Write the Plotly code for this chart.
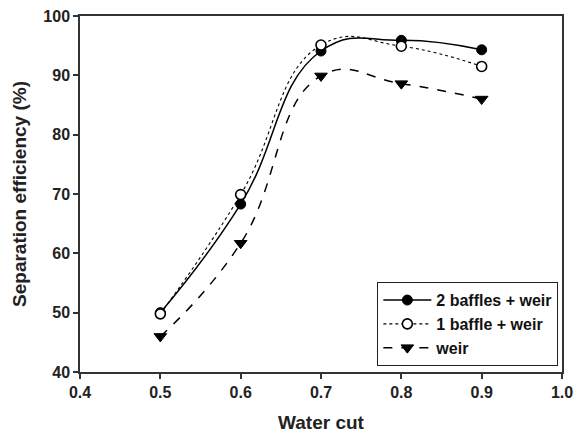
import plotly.graph_objects as go

water_cut = [0.5, 0.6, 0.7, 0.8, 0.9]
two_baffles_weir = [50.0, 68.3, 94.1, 95.9, 94.3]
one_baffle_weir = [49.8, 69.9, 95.1, 94.9, 91.5]
weir_only = [46.0, 61.7, 89.9, 88.6, 86.0]

x_ticks = [0.4, 0.5, 0.6, 0.7, 0.8, 0.9, 1.0]
y_ticks = [40, 50, 60, 70, 80, 90, 100]

FONT = "Liberation Sans, Arial, sans-serif"

fig = go.Figure()
fig.add_trace(go.Scatter(
    x=water_cut, y=two_baffles_weir, name="<b>2 baffles + weir</b>",
    mode="lines+markers",
    line=dict(color="black", width=1.5, shape="spline", smoothing=1.3, dash="solid"),
    marker=dict(symbol="circle", size=10, color="black", line=dict(color="black", width=1)),
))
fig.add_trace(go.Scatter(
    x=water_cut, y=one_baffle_weir, name="<b>1 baffle + weir</b>",
    mode="lines+markers",
    line=dict(color="black", width=1.1, shape="spline", smoothing=1.3, dash="dot"),
    marker=dict(symbol="circle", size=10, color="white", line=dict(color="black", width=1.6)),
))
fig.add_trace(go.Scatter(
    x=water_cut, y=weir_only, name="<b>weir</b>",
    mode="lines+markers",
    line=dict(color="black", width=1.5, shape="spline", smoothing=1.3, dash="dash"),
    marker=dict(symbol="triangle-down", size=11, color="black", line=dict(color="black", width=1)),
))

axis_common = dict(
    showline=True, linecolor="#333333", linewidth=1.5, mirror=True,
    ticks="outside", ticklen=5, tickwidth=1.5, tickcolor="#333333",
    showgrid=False, zeroline=False, automargin=False,
    ticklabeloverflow="allow",
    tickfont=dict(family=FONT, size=16, color="#222222"),
)

fig.update_xaxes(
    range=[0.4, 1.0], tickvals=x_ticks, ticktext=[f"<b>{v:.1f}</b>" for v in x_ticks],
    title=dict(text="<b>Water cut</b>", font=dict(family=FONT, size=19, color="#222222"), standoff=16),
    **axis_common,
)
fig.update_yaxes(
    range=[40, 100], tickvals=y_ticks, ticktext=[f"<b>{v}</b>" for v in y_ticks],
    title=dict(text="<b>Separation efficiency (%)</b>", font=dict(family=FONT, size=19, color="#222222"), standoff=12),
    **axis_common,
)

fig.update_layout(
    width=579, height=433,
    margin=dict(l=72, r=25, t=8, b=69),
    paper_bgcolor="white", plot_bgcolor="white",
    font=dict(family=FONT, color="#222222"),
    legend=dict(
        x=0.992, y=0.017, xanchor="right", yanchor="bottom",
        bordercolor="#222222", borderwidth=1.2, bgcolor="white",
        font=dict(family=FONT, size=16, color="#111111"),
        tracegroupgap=0, itemwidth=48,
    ),
    showlegend=True,
)

fig.write_html("out.html")
